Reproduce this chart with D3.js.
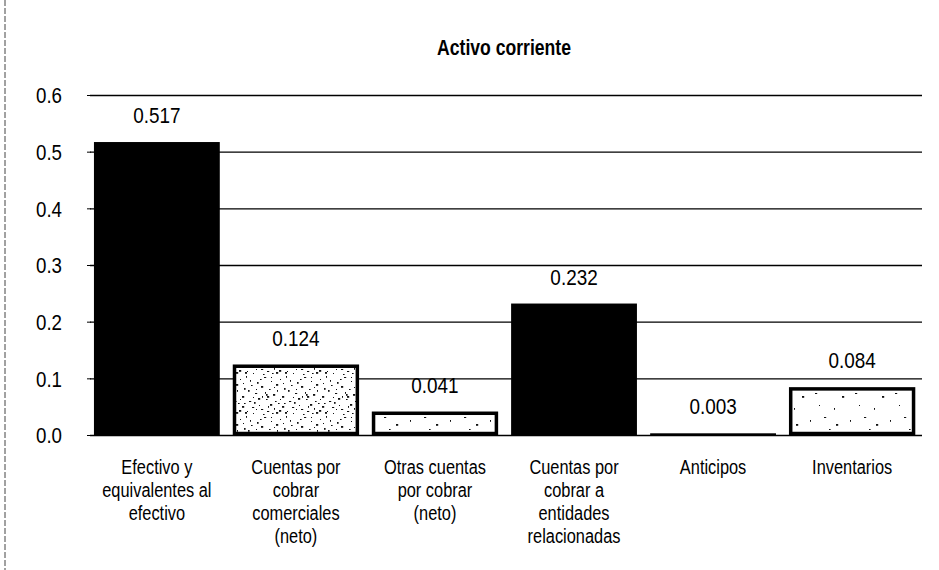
<!DOCTYPE html>
<html>
<head>
<meta charset="utf-8">
<script src="https://cdn.jsdelivr.net/npm/d3@7"></script>
<style>
  body { margin: 0; background: #fff; }
  text { font-family: "Liberation Sans", Arial, sans-serif; fill: #000; }
  .title { font-weight: bold; font-size: 22px; }
</style>
</head>
<body>
<svg id="chart" width="939" height="570"></svg>
<script>
// data
var categories = ['Efectivo y equivalentes al efectivo', 'Cuentas por cobrar comerciales (neto)',
  'Otras cuentas por cobrar (neto)', 'Cuentas por cobrar a entidades relacionadas', 'Anticipos', 'Inventarios'];
var categoryLines = [
  ['Efectivo y', 'equivalentes al', 'efectivo'],
  ['Cuentas por', 'cobrar', 'comerciales', '(neto)'],
  ['Otras cuentas', 'por cobrar', '(neto)'],
  ['Cuentas por', 'cobrar a', 'entidades', 'relacionadas'],
  ['Anticipos'],
  ['Inventarios']
];
var values = [0.517, 0.124, 0.041, 0.232, 0.003, 0.084];
var fills = ['solid', 'dense', 'sparse', 'solid', 'solid', 'sparse'];
var yTicks = [0, 0.1, 0.2, 0.3, 0.4, 0.5, 0.6];

var svg = d3.select('#chart');
var padding = {t: 95, r: 17, b: 135, l: 87};
var width = 939 - padding.l - padding.r;
var height = 570 - padding.t - padding.b;

// the scan uses a narrow sans, so squeeze text horizontally
var narrow = 0.86;

// stipple patterns
var defs = svg.append('defs');
function stipple(id, n, spots) {
  var p = defs.append('pattern').attr('id', id).attr('patternUnits', 'userSpaceOnUse')
    .attr('width', 40).attr('height', 40);
  p.append('rect').attr('width', 40).attr('height', 40).attr('fill', '#fff');
  p.selectAll('rect.d').data(spots.slice(0, n)).join('rect').attr('class', 'd')
    .attr('x', d => d[0]).attr('y', d => d[1]).attr('width', d => 1 + (d[0] % 3) * 0.6).attr('height', d => 1 + (d[1] % 2) * 0.8)
    .attr('fill', '#111');
}
var dotSpots = [[3,5],[17,2],[29,9],[8,18],[22,14],[35,21],[12,30],[27,33],[38,37],[2,26],
  [19,24],[33,4],[6,38],[24,6],[14,11],[31,28],[9,34],[37,13],[20,36],[1,15],
  [26,19],[11,23],[35,31],[4,10],[16,39],[28,26],[39,1],[13,4],[23,29],[7,27],
  [18,17],[30,15],[5,32],[25,38],[36,8],[10,7],[21,31],[32,35],[15,21],[0,36],
  [19,19],[20,21],[9,14],[27,12],[33,24],[6,22],[14,34],[29,37],[24,2],[37,28]];
stipple('dense', 50, dotSpots);
stipple('sparse', 8, dotSpots);

var chartG = svg.append('g').attr('transform', 'translate(' + [padding.l, padding.t] + ')');

var xScale = d3.scaleBand().domain(categories).range([0, width]).paddingInner(0.095).paddingOuter(0.05);
var yScale = d3.scaleLinear().domain([0, 0.6]).range([height, 0]);

// left border of the scanned frame
svg.append('line').attr('x1', 5).attr('x2', 5).attr('y1', 0).attr('y2', 570)
  .attr('stroke', '#444').attr('stroke-width', 1).attr('stroke-dasharray', '6,2');

// grid
var yAxis = d3.axisLeft(yScale).tickValues(yTicks).tickFormat(d3.format('.1f'))
  .tickSize(-width + 3);
var yG = chartG.append('g').attr('class', 'yaxis').call(yAxis);
yG.select('.domain').remove();
yG.selectAll('.tick line').attr('stroke', '#000').attr('stroke-width', 1.4).attr('transform', 'translate(3,0)');
yG.selectAll('.tick text').attr('font-size', 22).attr('text-anchor', 'end').attr('x', 0).attr('dy', '0.35em')
  .attr('transform', 'translate(-25,0) scale(0.85,1)')
  .style('font-family', '"Liberation Sans", Arial, sans-serif');
yG.selectAll('.tick').append('line').attr('x1', 0).attr('x2', 4).attr('stroke', '#000');

// bars
chartG.selectAll('.bar').data(values).join('rect').attr('class', 'bar')
  .attr('x', (d, i) => xScale(categories[i]) + (fills[i] === 'solid' ? 0 : 1.5))
  .attr('width', (d, i) => xScale.bandwidth() - (fills[i] === 'solid' ? 0 : 3))
  .attr('y', (d, i) => yScale(d) + (fills[i] === 'solid' ? 0 : 1.5))
  .attr('height', (d, i) => Math.max(1.5, height - yScale(d) - (fills[i] === 'solid' ? 0 : 3)))
  .attr('fill', (d, i) => fills[i] === 'solid' ? '#000' : 'url(#' + fills[i] + ')')
  .attr('stroke', (d, i) => fills[i] === 'solid' ? 'none' : '#000')
  .attr('stroke-width', 3.5);

// value labels
chartG.selectAll('.val').data(values).join('text').attr('class', 'val')
  .attr('transform', (d, i) => 'translate(' + (xScale(categories[i]) + xScale.bandwidth() / 2) + ','
    + (yScale(d) - 19) + ') scale(' + narrow + ',1)')
  .attr('text-anchor', 'middle').attr('font-size', 22)
  .text(d => d3.format('.3f')(d));

// category labels
var catG = chartG.selectAll('.cat').data(categoryLines).join('text').attr('class', 'cat')
  .attr('text-anchor', 'middle').attr('font-size', 21)
  .attr('transform', (d, i) => 'translate(' + (xScale(categories[i]) + xScale.bandwidth() / 2) + ','
    + (height + 39) + ') scale(0.78,1)');
catG.selectAll('tspan').data(d => d).join('tspan')
  .attr('x', 0).attr('dy', (d, j) => j === 0 ? 0 : 23).text(d => d);

// title
svg.append('text').attr('class', 'title').attr('text-anchor', 'middle')
  .attr('transform', 'translate(504,55) scale(0.8,1)')
  .text('Activo corriente');
</script>
</body>
</html>
